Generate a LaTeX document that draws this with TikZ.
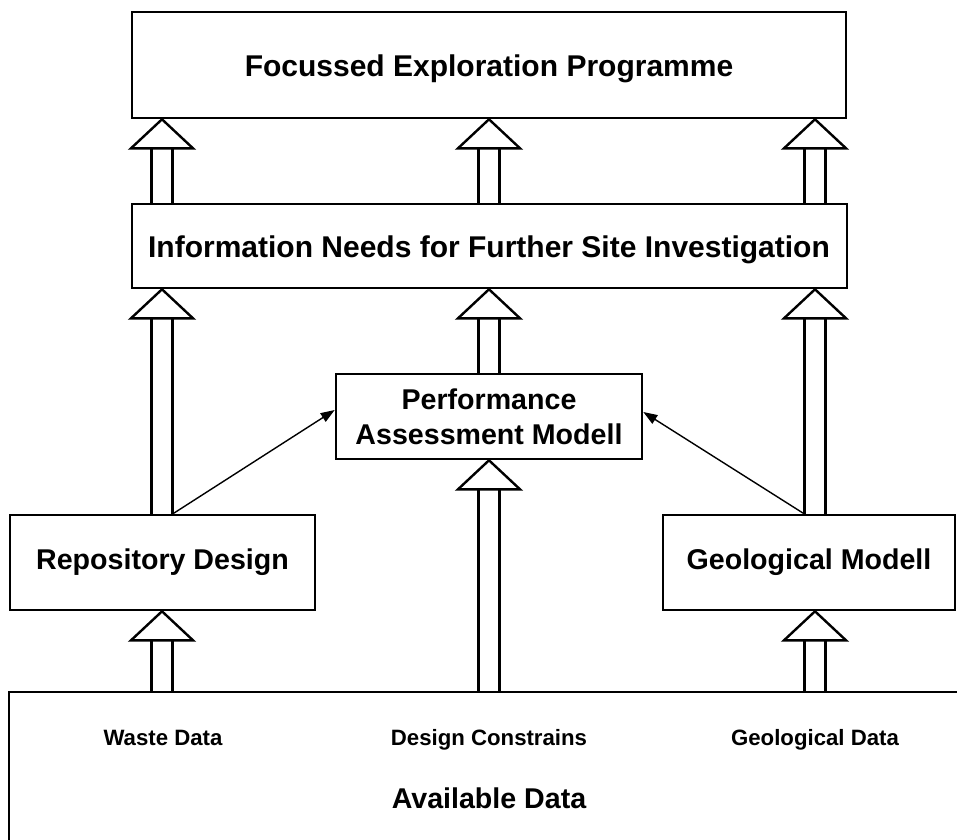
\documentclass[tikz,border=0pt]{standalone}
\usepackage{fontspec}
\setmainfont{Liberation Sans}
\usetikzlibrary{calc,arrows.meta}
\tikzset{
  box/.style={draw, line width=2.6pt, inner sep=0pt},
  bigfont/.style={font=\bfseries\fontsize{28.6}{35}\selectfont},
  headfont/.style={font=\bfseries\fontsize{30}{36}\selectfont},
  smallfont/.style={font=\bfseries\fontsize{22.2}{26}\selectfont},
  hollow/.style={draw, line width=2.4pt, line join=miter},
  thinarrow/.style={draw, line width=1.4pt, -{Triangle[length=14pt,width=10pt]}},
}
% #1 = x position, #2 = lower node, #3 = upper node, #4 = name prefix
\newcommand\bigup[4]{%
  \path (#1,0) coordinate (#4x);
  \path (#4x |- #3.south) coordinate (#4tip);
  \path (#4x |- #2.north) coordinate (#4foot);
  \draw[hollow] (#4tip) -- ($(#4tip)+(-31,29)$) -- ($(#4tip)+(31,29)$) -- cycle;
  \draw[hollow] ($(#4tip)+(-10.5,29)$) -- ($(#4foot)+(-10.5,0)$);
  \draw[hollow] ($(#4tip)+(10.5,29)$) -- ($(#4foot)+(10.5,0)$);
}
\begin{document}
\begin{tikzpicture}[x=1pt,y=-1pt]
\useasboundingbox (0,0) rectangle (957,839);
\clip (0,0) rectangle (957,839);

\node[box, minimum width=714pt, minimum height=106pt] (fep) at (489,65) {};
\node[headfont, anchor=base] (feptext) at (489,76) {Focussed Exploration Programme};
\node[box, minimum width=715pt, minimum height=84pt] (info) at (489.5,246) {};
\node[headfont, anchor=base] (infotext) at (489,257) {Information Needs for Further Site Investigation};
\node[box, bigfont, align=center, minimum width=306pt, minimum height=85pt] (perf) at (489,416.5) {Performance\\Assessment Modell};
\node[box, bigfont, minimum width=305pt, minimum height=95pt] (repo) at (162.5,562.5) {Repository Design};
\node[box, bigfont, minimum width=292pt, minimum height=95pt] (geo) at (809,562.5) {Geological Modell};
\node[box, minimum width=956pt, minimum height=160pt] (avail) at (487,772) {};

\node[smallfont, anchor=base] (waste) at (163,745) {Waste Data};
\node[smallfont, anchor=base] (design) at (489,745) {Design Constrains};
\node[smallfont, anchor=base] (geodata) at (815,745) {Geological Data};
\node[bigfont, anchor=base] (availtext) at (489,808) {Available Data};

% top row
\bigup{162}{info}{fep}{a}
\bigup{489}{info}{fep}{b}
\bigup{815}{info}{fep}{c}
% second row
\bigup{162}{repo}{info}{d}
\bigup{489}{perf}{info}{e}
\bigup{815}{geo}{info}{f}
% lower row
\bigup{162}{avail}{repo}{g}
\bigup{489}{avail}{perf}{h}
\bigup{815}{avail}{geo}{i}

% thin arrows
\path (173,0) coordinate (rx);
\path (804,0) coordinate (gx);
\path (0,410) coordinate (ly);
\path (0,412) coordinate (ry);
\draw[thinarrow] (rx |- repo.north) -- (perf.west |- ly);
\draw[thinarrow] (gx |- geo.north) -- (perf.east |- ry);
\end{tikzpicture}
\end{document}
